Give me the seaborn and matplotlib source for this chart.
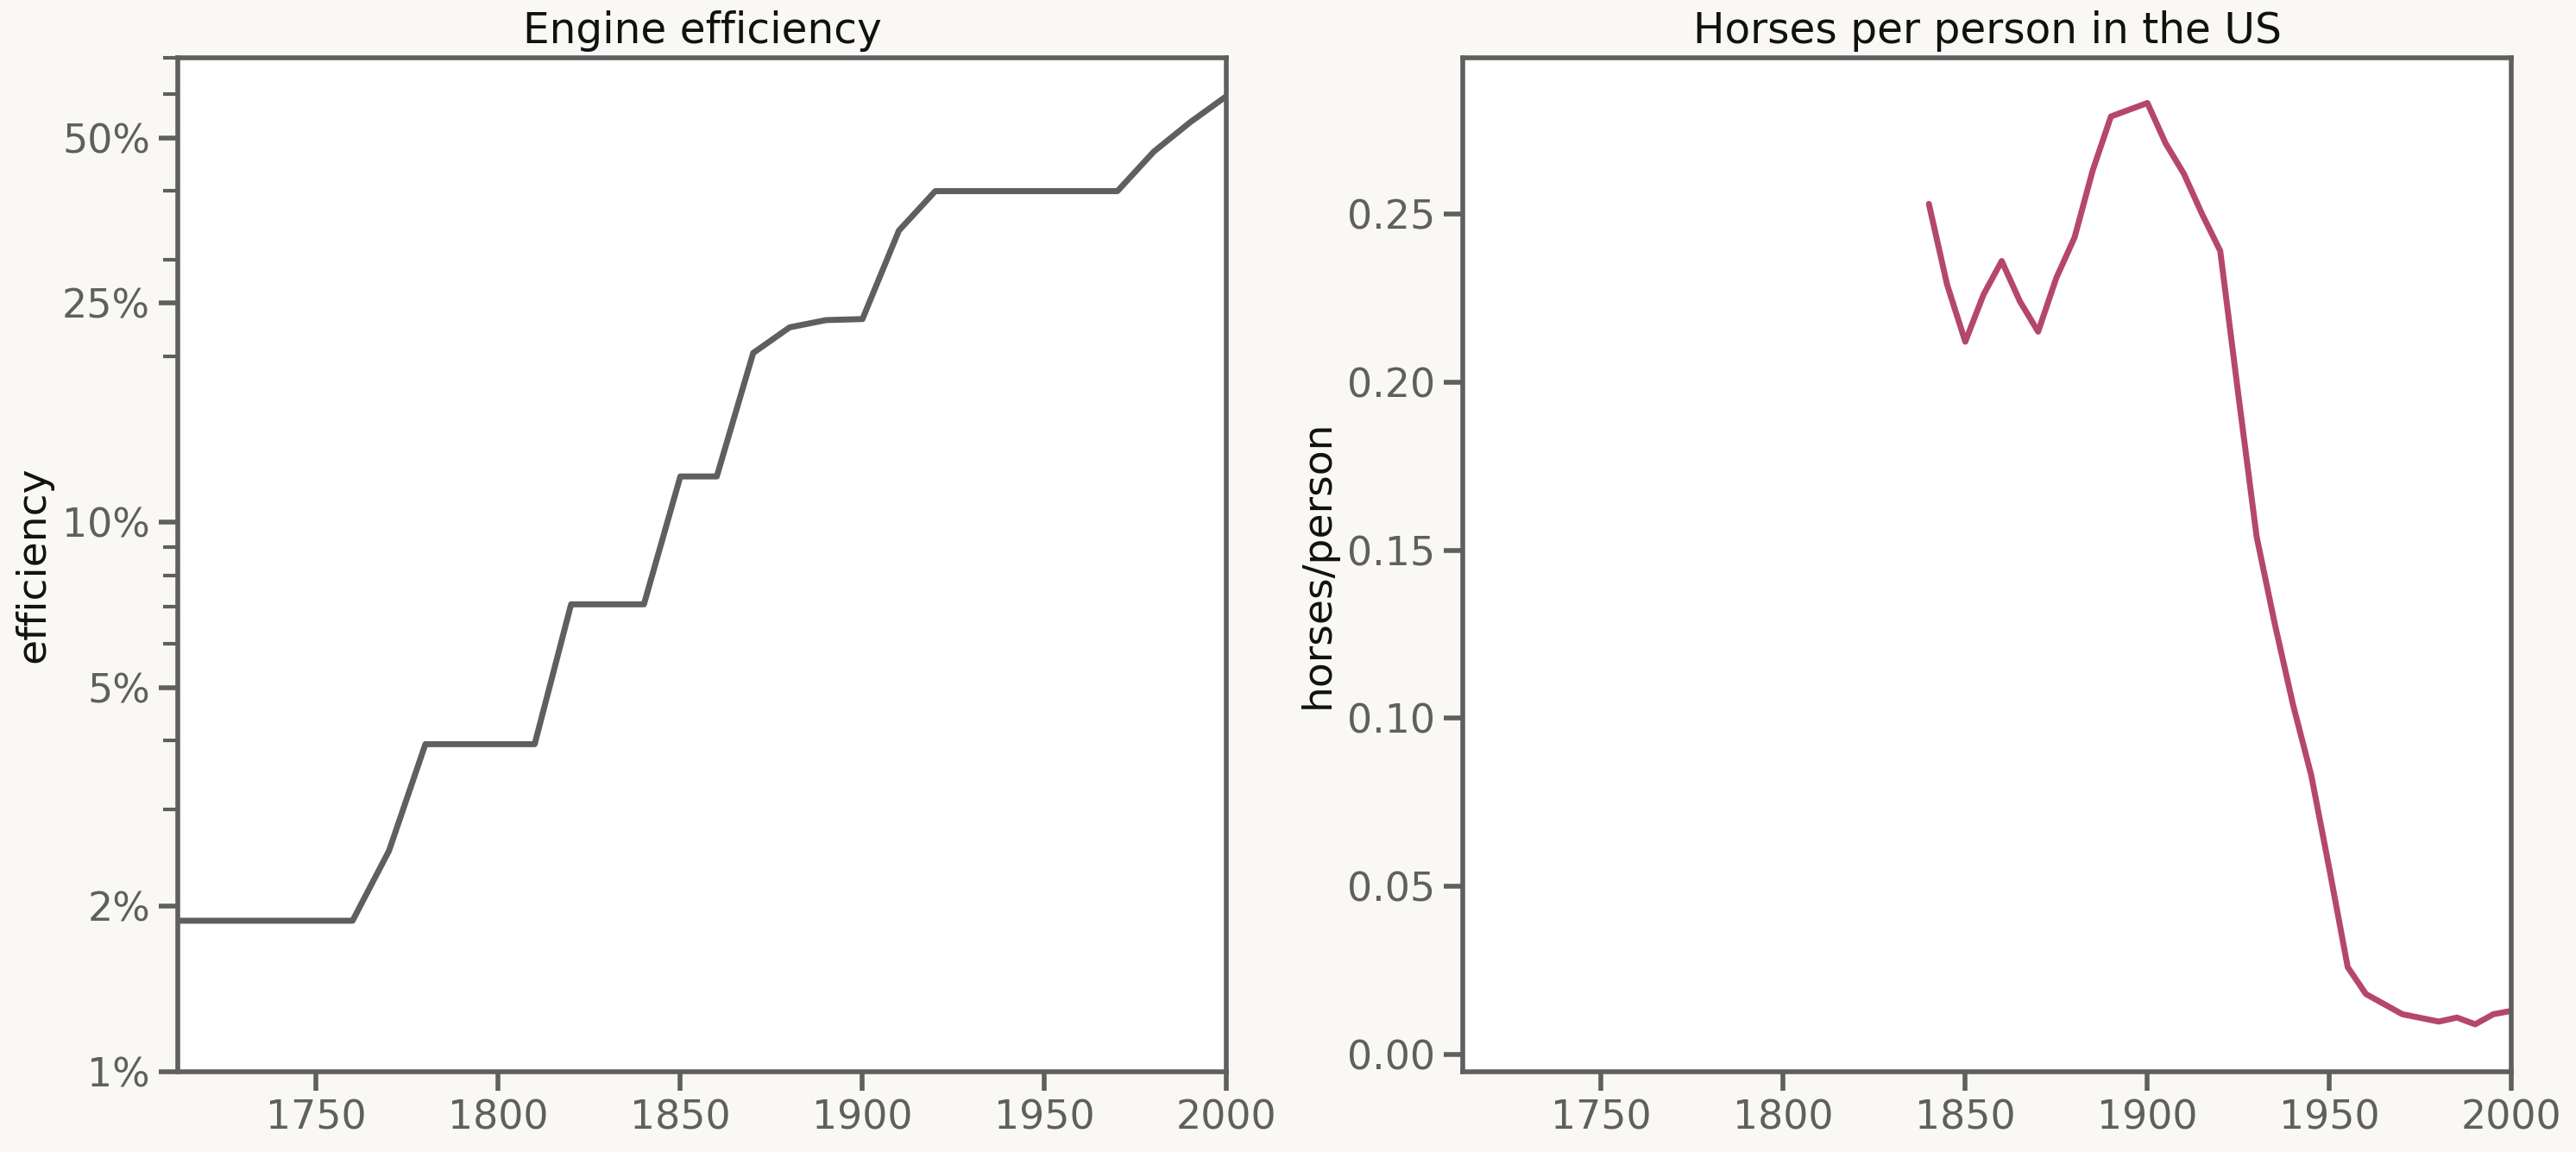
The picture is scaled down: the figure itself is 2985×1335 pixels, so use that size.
import matplotlib
matplotlib.use("Agg")
import matplotlib.pyplot as plt
import matplotlib.ticker as mt
import seaborn as sns
import pandas as pd

eff_years = [1710, 1760, 1770, 1780, 1810, 1820, 1840, 1850, 1860, 1870, 1880, 1890, 1900, 1910, 1920, 1970, 1980, 1990, 2000]
eff_vals = [0.0188, 0.0188, 0.0252, 0.0394, 0.0394, 0.0708, 0.0708, 0.121, 0.121, 0.203, 0.226, 0.233, 0.234, 0.339, 0.40, 0.40, 0.472, 0.534, 0.596]

horse_years = [1840, 1845, 1850, 1855, 1860, 1865, 1870, 1875, 1880, 1885, 1890, 1900, 1905, 1910, 1915, 1920, 1925, 1930, 1935, 1940, 1945, 1950, 1955, 1960, 1970, 1980, 1985, 1990, 1995, 2000]
horse_vals = [0.253, 0.229, 0.212, 0.226, 0.236, 0.224, 0.215, 0.231, 0.243, 0.263, 0.279, 0.283, 0.271, 0.262, 0.250, 0.239, 0.196, 0.154, 0.128, 0.104, 0.083, 0.055, 0.026, 0.018, 0.012, 0.0098, 0.011, 0.009, 0.012, 0.013]

sns.set_theme(style="ticks")
plt.rcParams['font.family'] = ['DejaVu Sans']
grey = "#5f5f5f"
plt.rcParams.update({"axes.edgecolor": grey, "xtick.color": grey, "ytick.color": grey,
                     "xtick.labelcolor": grey, "ytick.labelcolor": grey,
                     "axes.linewidth": 2, "xtick.major.width": 2, "ytick.major.width": 2,
                     "ytick.minor.width": 1.5, "xtick.major.size": 8, "ytick.major.size": 8,
                     "ytick.minor.size": 6})

fig, (ax1, ax2) = plt.subplots(1, 2, figsize=(14.925, 6.675), dpi=200)
fig.patch.set_facecolor("#f9f8f4")
fig.subplots_adjust(left=0.069, right=0.975, top=0.95, bottom=0.07, wspace=0.225)

d1 = pd.DataFrame({"year": eff_years, "efficiency": eff_vals})
sns.lineplot(data=d1, x="year", y="efficiency", ax=ax1, color=grey, lw=2.5)
ax1.set_yscale("log")
ax1.set_ylim(0.01, 0.70)
ax1.set_xlim(1712, 2000)
ax1.set_yticks([0.01, 0.02, 0.05, 0.10, 0.25, 0.50])
ax1.set_yticklabels(["1%", "2%", "5%", "10%", "25%", "50%"])
ax1.yaxis.set_minor_locator(mt.LogLocator(base=10, subs=range(2, 10)))
ax1.yaxis.set_minor_formatter(mt.NullFormatter())
ax1.set_title("Engine efficiency", fontsize=17.5, color="#111111")
ax1.set_xlabel("")
ax1.set_ylabel("efficiency", fontsize=17, color="#111111")

d2 = pd.DataFrame({"year": horse_years, "horses": horse_vals})
sns.lineplot(data=d2, x="year", y="horses", ax=ax2, color="#b5476f", lw=2.5)
ax2.set_xlim(1712, 2000)
ax2.set_ylim(-0.005, 0.2965)
ax2.set_yticks([0, 0.05, 0.10, 0.15, 0.20, 0.25])
ax2.yaxis.set_major_formatter(mt.FormatStrFormatter("%.2f"))
ax2.set_title("Horses per person in the US", fontsize=17.5, color="#111111")
ax2.set_xlabel("")
ax2.set_ylabel("horses/person", fontsize=17, color="#111111")

for ax in (ax1, ax2):
    ax.set_facecolor("white")
    ax.set_xticks([1750, 1800, 1850, 1900, 1950, 2000])
    ax.tick_params(labelsize=16.5)
    for s in ax.spines.values():
        s.set_visible(True)

fig.savefig("out.png", dpi=200, facecolor=fig.get_facecolor())
